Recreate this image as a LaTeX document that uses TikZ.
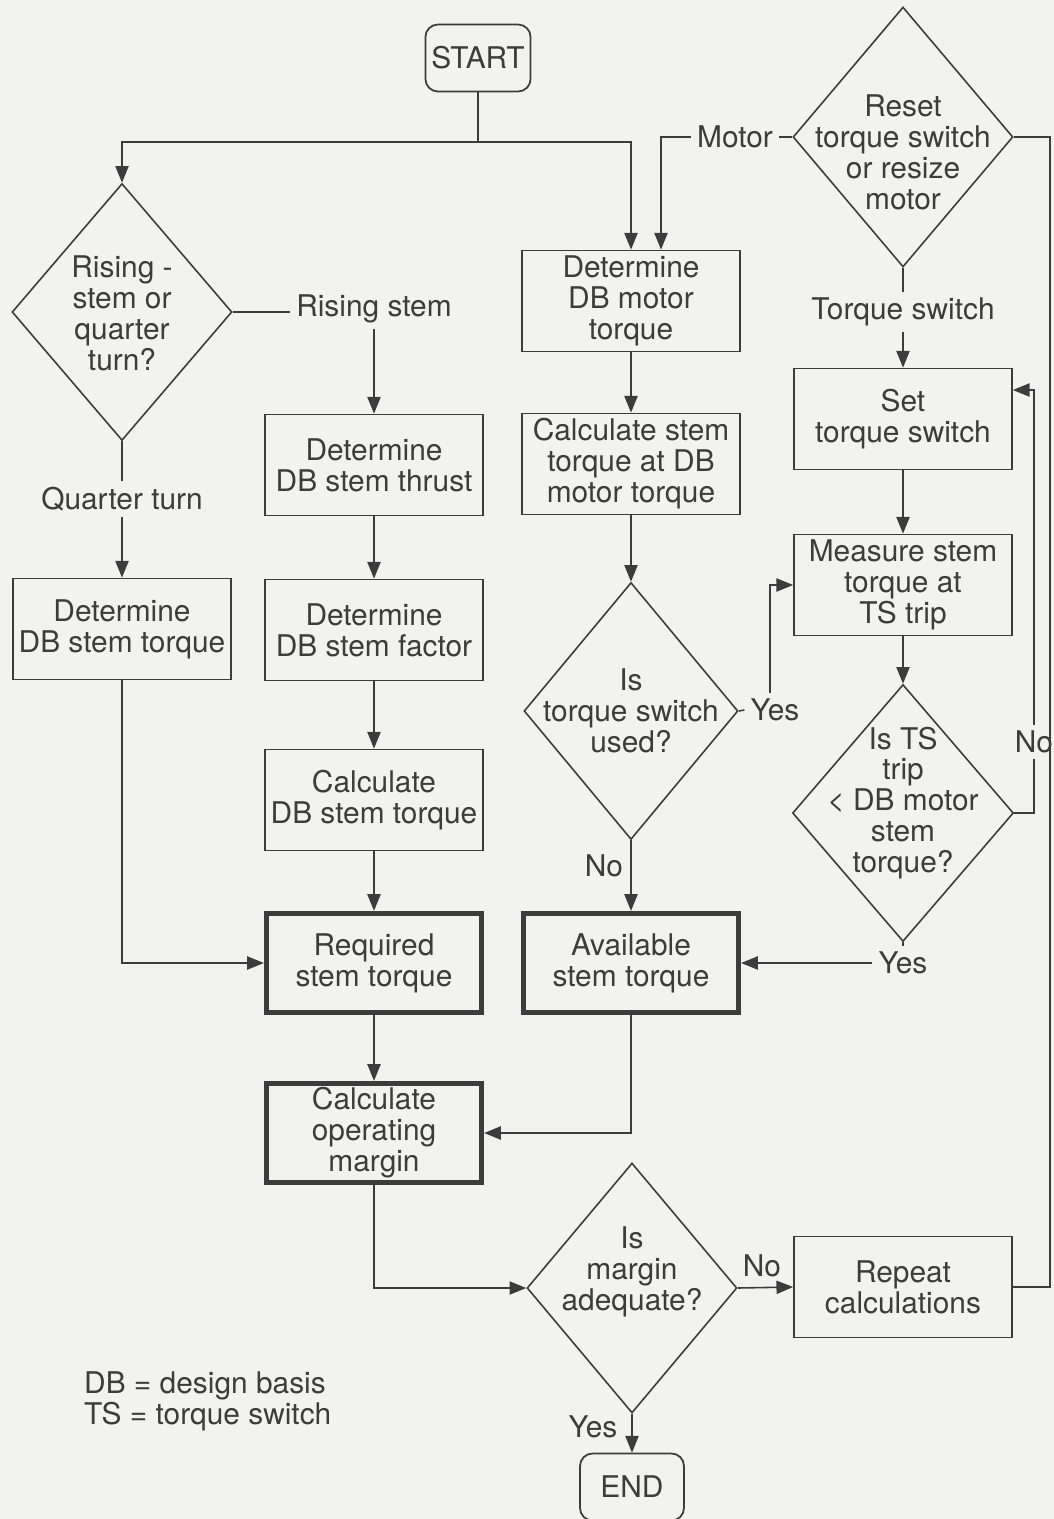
\documentclass[tikz,border=0pt]{standalone}
\usepackage{fontspec}
\setmainfont{TeX Gyre Heros}
\usetikzlibrary{shapes.geometric,arrows.meta}
\definecolor{ink}{HTML}{3C3C3C}
\definecolor{paper}{HTML}{F2F2F0}
\begin{document}
\begin{tikzpicture}[x=0.02cm, y=-0.02cm,
    every node/.style = {font=\fontsize{17}{17.6}\selectfont, text=ink, align=center},
    >={Triangle[length=9.5pt,width=7.5pt]},
    line/.style = {draw=ink, line width=0.9pt},
    box/.style = {shape=rectangle, draw=ink, line width=1pt,
      minimum width=4.36cm, minimum height=2.02cm, inner sep=0pt},
    main box/.style = {box, line width=3pt, minimum width=4.3cm, minimum height=1.98cm},
    decision/.style = {shape=diamond, draw=ink, line width=0.9pt, inner sep=0pt},
    terminal/.style = {shape=rectangle, rounded corners=0.25cm, draw=ink, line width=1pt,
      minimum width=2.08cm, minimum height=1.34cm}]
    \fill[paper] (0,0) rectangle (1054,1519);
    \useasboundingbox (0,0) rectangle (1054,1519);

    \node[terminal] (start) at (478,58) {START};

    \node[decision, minimum width=4.4cm, minimum height=5.14cm] (qt) at (122,312) {};
    \node (qt-t) at (122,313) {Rising -\\stem or\\quarter\\turn?};
    \node (rsl) at (374,309) {Rising stem};
    \node (qtl) at (122,499) {Quarter turn};
    \node[box] (dst) at (122,629) {Determine\\DB stem torque};
    \node[box] (thr) at (374,465) {Determine\\DB stem thrust};
    \node[box] (fac) at (374,630) {Determine\\DB stem factor};
    \node[box] (cdt) at (374,800) {Calculate\\DB stem torque};
    \node[main box] (req) at (374,963) {Required\\stem torque};
    \node[main box] (com) at (374,1133) {Calculate\\operating\\margin};

    \node[box] (dbm) at (631,301) {Determine\\DB motor\\torque};
    \node[box] (cst) at (631,464) {Calculate stem\\torque at DB\\motor torque};
    \node[decision, minimum width=4.28cm, minimum height=5.14cm] (tsu) at (631,711) {};
    \node (tsu-t) at (631,711) {Is\\torque switch\\used?};
    \node (yes1) at (775,710) {Yes};
    \node (no1) at (604,866) {No};
    \node[main box] (avl) at (631,963) {Available\\stem torque};

    \node[decision, minimum width=4.4cm, minimum height=5.2cm] (rst) at (903,137) {};
    \node (rst-t) at (903,152) {Reset\\torque switch\\or resize\\motor};
    \node (motl) at (735,137) {Motor};
    \node (tsl) at (903,312) {Torque switch};
    \node[box] (set) at (903,419) {Set\\torque switch};
    \node[box] (mea) at (903,585) {Measure stem\\torque at\\TS trip};
    \node[decision, minimum width=4.42cm, minimum height=5.14cm] (tst) at (903,813) {};
    \node (tst-t) at (903,803) {Is TS\\trip\\< DB motor\\stem\\torque?};
    \node (no2) at (1034,742) {No};
    \node (yes2) at (903,963) {Yes};

    \node[decision, minimum width=4.2cm, minimum height=5cm] (mar) at (632,1288) {};
    \node (mar-t) at (632,1272) {Is\\margin\\adequate?};
    \node[box] (rep) at (903,1287) {Repeat\\calculations};
    \node (no3) at (762,1266) {No};
    \node (yes3) at (593,1427) {Yes};
    \node[terminal] (end) at (632,1487) {END};

    \node[anchor=west, align=left] (legend) at (78,1401) {DB = design basis\\TS = torque switch};

    \coordinate (top) at (478,142);
    \draw[line] (start.south) -- (top);
    \draw[line,->] (top) -| (qt.north);
    \draw[line,->] (top) -| (dbm.north);
    \draw[line] (rst.west) -- (motl.east);
    \draw[line,->] (motl.west) -| ([xshift=0.6cm]dbm.north);

    \draw[line] (qt.east) -- (qt.east -| rsl.west);
    \draw[line,->] (rsl.south) -- (thr.north);
    \draw[line] (qt.south) -- (qtl.north);
    \draw[line,->] (qtl.south) -- (dst.north);
    \draw[line,->] (dst.south) |- (req.west);
    \draw[line,->] (thr) -- (fac);
    \draw[line,->] (fac) -- (cdt);
    \draw[line,->] (cdt) -- (req);
    \draw[line,->] (req) -- (com);
    \draw[line,->] (com.south) |- (mar.west);

    \draw[line,->] (dbm) -- (cst);
    \draw[line,->] (cst) -- (tsu.north);
    \draw[line] (tsu.east) -- (yes1.west);
    \draw[line,->] ([xshift=-0.1cm]yes1.north) |- (mea.west);
    \draw[line,->] (tsu.south) -- (avl.north);
    \draw[line,->] (avl.south) |- (com.east);

    \draw[line] (rst.south) -- (tsl.north);
    \draw[line,->] (tsl.south) -- (set.north);
    \draw[line,->] (set) -- (mea);
    \draw[line,->] (mea.south) -- (tst.north);
    \draw[line] (tst.east) -| (no2.south);
    \draw[line,->] (no2.north) |- ([yshift=0.58cm]set.east);
    \draw[line] (tst.south) -- (yes2.north);
    \draw[line,->] (yes2.west) -- (avl.east);

    \draw[line,->] (mar.east) -- (rep.west);
    \draw[line,->] (mar.south) -- (end.north);
    \coordinate (rt) at (1050,700);
    \draw[line] (rep.east) -| (rt) |- (rst.east);
\end{tikzpicture}
\end{document}
